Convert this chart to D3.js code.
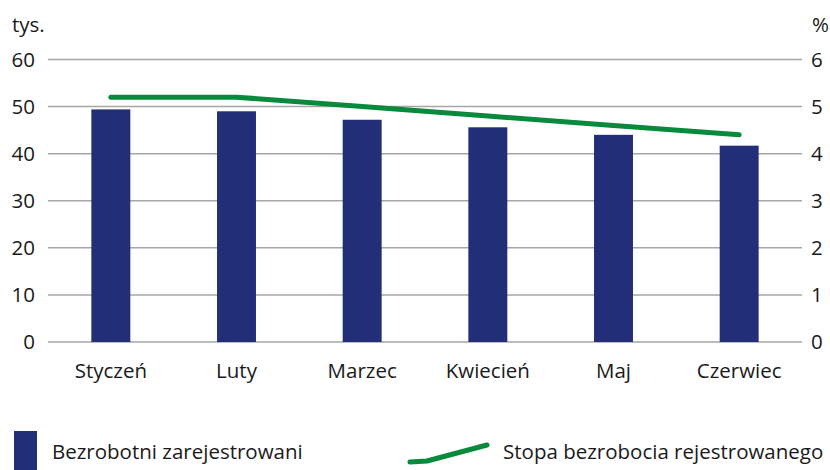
<!DOCTYPE html>
<html lang="pl">
<head>
<meta charset="UTF-8">
<title>Bezrobocie</title>
<script src="https://d3js.org/d3.v7.min.js"></script>
<style>
    body { margin: 0; background: #fff; }
    svg text { font-family: "Open Sans", "Noto Sans", sans-serif; fill: #1a1a1a; }
</style>
</head>
<body>
<div id="chart"></div>
<script>
    // dane
    const months = ["Styczeń", "Luty", "Marzec", "Kwiecień", "Maj", "Czerwiec"];
    const unemployed = [49.4, 49.0, 47.2, 45.6, 44.0, 41.7];   // tys.
    const rate = [5.2, 5.2, 5.0, 4.8, 4.6, 4.4];               // %
    const leftTicks = [0, 10, 20, 30, 40, 50, 60];
    const rightTicks = [0, 1, 2, 3, 4, 5, 6];

    const width = 830, height = 470;
    const margin = {top: 59.5, right: 28, bottom: 128, left: 48};
    const fontSize = "20.5px";

    const svg = d3.select("#chart").append("svg")
        .attr("width", width)
        .attr("height", height);

    const x = d3.scaleBand()
        .domain(months)
        .range([margin.left, width - margin.right]);
    const yL = d3.scaleLinear().domain([0, 60]).range([height - margin.bottom, margin.top]);
    const yR = d3.scaleLinear().domain([0, 6]).range([height - margin.bottom, margin.top]);

    // siatka
    svg.append("g")
        .selectAll("line")
        .data(leftTicks)
        .enter().append("line")
        .attr("x1", margin.left)
        .attr("x2", width - margin.right)
        .attr("y1", d => yL(d))
        .attr("y2", d => yL(d))
        .style("stroke", "#a6a6a6")
        .style("stroke-width", 1.5);

    // osie
    const leftAxis = svg.append("g")
        .attr("transform", `translate(${margin.left},0)`)
        .call(d3.axisLeft(yL).tickValues(leftTicks).tickFormat(d3.format("d")).tickSize(0).tickPadding(13));
    leftAxis.select(".domain").remove();
    leftAxis.selectAll("text").style("font-size", fontSize).style("font-family", "Open Sans, sans-serif").style("fill", "#1a1a1a");

    const rightAxis = svg.append("g")
        .attr("transform", `translate(${width - margin.right},0)`)
        .call(d3.axisRight(yR).tickValues(rightTicks).tickFormat(d3.format("d")).tickSize(0).tickPadding(9));
    rightAxis.select(".domain").remove();
    rightAxis.selectAll("text").style("font-size", fontSize).style("font-family", "Open Sans, sans-serif").style("fill", "#1a1a1a");

    const bottomAxis = svg.append("g")
        .attr("transform", `translate(0,${height - margin.bottom})`)
        .call(d3.axisBottom(x).tickSize(0).tickPadding(21));
    bottomAxis.select(".domain").remove();
    bottomAxis.selectAll("text").style("font-size", fontSize).style("font-family", "Open Sans, sans-serif").style("fill", "#1a1a1a");

    svg.append("text").attr("x", 12).attr("y", 32).style("font-size", fontSize).text("tys.");
    svg.append("text").attr("x", 829).attr("y", 32).attr("text-anchor", "end").style("font-size", fontSize).text("%");

    // słupki
    const barW = x.bandwidth() * 0.31;
    svg.append("g")
        .selectAll("rect")
        .data(months)
        .enter().append("rect")
        .attr("x", d => x(d) + x.bandwidth() / 2 - barW / 2)
        .attr("width", barW)
        .attr("y", (d, i) => yL(unemployed[i]))
        .attr("height", (d, i) => yL(0) - yL(unemployed[i]))
        .style("fill", "#222e78");

    // linia
    const line = d3.line()
        .x((d, i) => x(months[i]) + x.bandwidth() / 2)
        .y(d => yR(d));
    svg.append("path")
        .datum(rate)
        .attr("d", line)
        .style("fill", "none")
        .style("stroke", "#078a3c")
        .style("stroke-width", 5)
        .style("stroke-linecap", "round")
        .style("stroke-linejoin", "round");

    // legenda
    svg.append("rect")
        .attr("x", 14).attr("y", 431).attr("width", 23).attr("height", 39)
        .style("fill", "#222e78");
    svg.append("text").attr("x", 52).attr("y", 459).style("font-size", fontSize).text("Bezrobotni zarejestrowani");

    svg.append("path")
        .attr("d", "M410,462 L427,461 L487,445")
        .style("fill", "none")
        .style("stroke", "#078a3c")
        .style("stroke-width", 5)
        .style("stroke-linecap", "round")
        .style("stroke-linejoin", "round");
    svg.append("text").attr("x", 503).attr("y", 459).style("font-size", fontSize).text("Stopa bezrobocia rejestrowanego");
</script>
</body>
</html>
